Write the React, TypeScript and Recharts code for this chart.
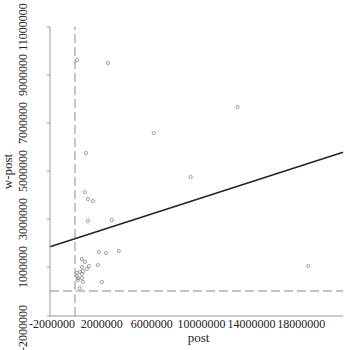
import {
  ScatterChart, Scatter, XAxis, YAxis, ReferenceLine,
} from "recharts";

const postValues = [
  160000, 2640000, 13040000, 6320000, 880000, 9280000, 800000, 1040000,
  1440000, 1040000, 2960000, 1920000, 2480000, 3520000, 18720000,
  560000, 800000, 1120000, 1840000, 560000, 960000, 640000, 400000,
  160000, 160000, 560000, 240000, 560000, 240000, 640000, 2160000, 400000,
];
const wPostValues = [
  9620000, 9500000, 7670000, 6580000, 5750000, 4750000, 4120000, 3830000,
  3750000, 2920000, 2960000, 1620000, 1580000, 1670000, 1040000,
  1330000, 1210000, 1040000, 1080000, 1000000, 920000, 830000, 790000,
  750000, 620000, 710000, 540000, 540000, 460000, 380000, 380000, 120000,
];

const xTicks = [-2000000, 2000000, 6000000, 10000000, 14000000, 18000000];
const yTicks = [-1040000, 1000000, 3000000, 5000000, 7000000, 9000000, 11000000];
const yTickLabels = ["-2000000", "1000000", "3000000", "5000000", "7000000", "9000000", "11000000"];

const xMin = -2000000;
const xMax = 21500000;
const yMin = -1040000;
const yMax = 11000000;

// fitted line
const fitIntercept = 2180000;
const fitSlope = 0.1677;

const data = postValues.map((x, i) => ({ x, y: wPostValues[i] }));

const FONT = "'Liberation Serif', 'DejaVu Serif', serif";

const XTick = (props: any) => {
  const { x, y, payload } = props;
  return (
    <text x={x + 2} y={y + 12} textAnchor="middle" fontFamily={FONT} fontSize={12} fill="#222">
      {payload.value}
    </text>
  );
};

const YTick = (props: any) => {
  const { x, y, payload, index } = props;
  const label = yTickLabels[yTicks.indexOf(payload.value)] ?? String(payload.value);
  const cy = index === 0 ? y + 12 : y;
  const cx = x - 20;
  return (
    <text
      x={cx}
      y={cy}
      transform={`rotate(-90 ${cx} ${cy})`}
      textAnchor="middle"
      fontFamily={FONT}
      fontSize={12}
      fill="#222"
    >
      {label}
    </text>
  );
};

const Dot = (props: any) => {
  const { cx, cy } = props;
  return <circle cx={cx} cy={cy} r={1.6} fill="none" stroke="#888" strokeWidth={0.8} />;
};

export default function App() {
  return (
    <div style={{ position: "absolute", left: 0, top: 0, width: 345, height: 350, background: "#fff" }}>
      <ScatterChart width={345} height={350} margin={{ top: 27, right: 2, bottom: 4, left: 0 }}>
        <XAxis
          dataKey="x"
          type="number"
          domain={[xMin, xMax]}
          ticks={xTicks}
          interval={0}
          allowDataOverflow
          height={30}
          tickSize={0}
          tickMargin={0}
          tickLine={false}
          axisLine={{ stroke: "#999" }}
          tick={<XTick />}
          label={(p: any) => {
            const vb = p.viewBox;
            return (
              <text x={vb.x + vb.width / 2 + 2} y={342} textAnchor="middle" fontFamily={FONT} fontSize={13} fill="#222">
                post
              </text>
            );
          }}
        />
        <YAxis
          dataKey="y"
          type="number"
          domain={[yMin, yMax]}
          ticks={yTicks}
          interval={0}
          allowDataOverflow
          width={50}
          tickSize={3}
          tickMargin={0}
          tickLine={{ stroke: "#999" }}
          axisLine={{ stroke: "#999" }}
          tick={<YTick />}
          label={(p: any) => {
            const vb = p.viewBox;
            const cy = vb.y + vb.height / 2;
            return (
              <text
                x={12}
                y={cy}
                transform={`rotate(-90 12 ${cy})`}
                textAnchor="middle"
                fontFamily={FONT}
                fontSize={13}
                fill="#222"
              >
                w-post
              </text>
            );
          }}
        />
        <ReferenceLine x={0} stroke="#c4c4c4" strokeWidth={2} strokeDasharray="9 4" />
        <ReferenceLine y={0} stroke="#c4c4c4" strokeWidth={2} strokeDasharray="9 4" />
        <ReferenceLine
          segment={[
            { x: xMin, y: fitIntercept + fitSlope * xMin },
            { x: xMax, y: fitIntercept + fitSlope * xMax },
          ]}
          stroke="#222"
          strokeWidth={1.5}
        />
        <Scatter data={data} shape={<Dot />} isAnimationActive={false} />
      </ScatterChart>
    </div>
  );
}
